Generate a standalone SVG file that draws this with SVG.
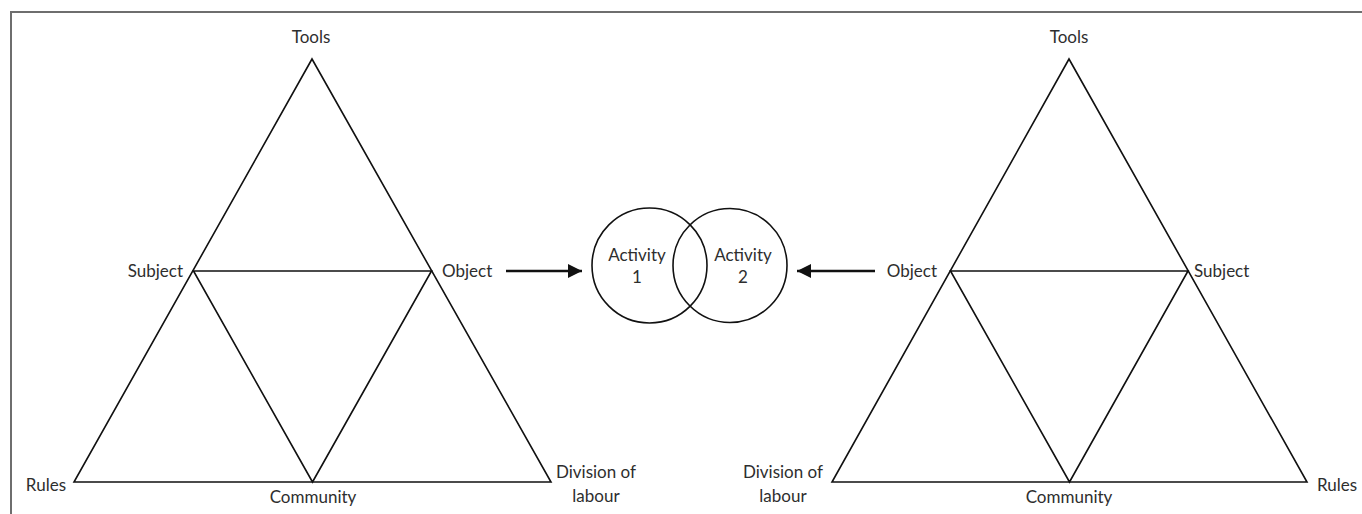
<svg xmlns="http://www.w3.org/2000/svg" width="1362" height="514" viewBox="0 0 1362 514">
<defs>
<style>
.lbl{font-family:Lato,"Liberation Sans",sans-serif;font-size:17px;fill:#2e2e2e}
.edge{stroke:#111;stroke-width:1.6;fill:none;stroke-linejoin:miter}
.arrow{stroke:#111;stroke-width:2.6;fill:none}
.circ{stroke:#111;stroke-width:1.6;fill:none}
.frame{stroke:#6e6e6e;stroke-width:2;fill:none}
</style>
<marker id="ah" viewBox="0 0 10 10" refX="10" refY="5" markerWidth="14" markerHeight="14" markerUnits="userSpaceOnUse" orient="auto">
<path d="M0,0 L10,5 L0,10 z" fill="#111"/>
</marker>
</defs>
<rect width="1362" height="514" fill="#fff"/>
<path class="frame" d="M11,514 V12 H1362"/>

<g id="triangle-left">
<path class="edge" d="M312,59 L551,482 L74,482 Z"/>
<path class="edge" d="M193.5,271 H431.5 L312.5,482 Z"/>
</g>
<g id="triangle-right">
<path class="edge" d="M1069,59 L1307,482 L832,482 Z"/>
<path class="edge" d="M950.5,271 H1188 L1069.5,482 Z"/>
</g>

<g id="left-labels">
<text class="lbl" x="311" y="43" text-anchor="middle">Tools</text>
<text class="lbl" x="183" y="277" text-anchor="end">Subject</text>
<text class="lbl" x="442" y="277">Object</text>
<text class="lbl" x="66" y="491" text-anchor="end">Rules</text>
<text class="lbl" x="313" y="503" text-anchor="middle">Community</text>
<text class="lbl" x="596" y="478" text-anchor="middle">Division of</text>
<text class="lbl" x="596" y="502" text-anchor="middle">labour</text>
</g>
<g id="right-labels">
<text class="lbl" x="1069" y="43" text-anchor="middle">Tools</text>
<text class="lbl" x="937" y="277" text-anchor="end">Object</text>
<text class="lbl" x="1194" y="277">Subject</text>
<text class="lbl" x="1317" y="491">Rules</text>
<text class="lbl" x="1069" y="503" text-anchor="middle">Community</text>
<text class="lbl" x="783" y="478" text-anchor="middle">Division of</text>
<text class="lbl" x="783" y="502" text-anchor="middle">labour</text>
</g>

<g id="activity-1">
<circle class="circ" cx="649.5" cy="265.5" r="57.5"/>
<text class="lbl" x="637" y="261" text-anchor="middle">Activity</text>
<text class="lbl" x="637" y="283" text-anchor="middle">1</text>
</g>
<g id="activity-2">
<circle class="circ" cx="730" cy="265.5" r="57"/>
<text class="lbl" x="743" y="261" text-anchor="middle">Activity</text>
<text class="lbl" x="743" y="283" text-anchor="middle">2</text>
</g>

<g id="connectors">
<line class="arrow" x1="506" y1="271" x2="582" y2="271" marker-end="url(#ah)"/>
<line class="arrow" x1="875" y1="271" x2="797" y2="271" marker-end="url(#ah)"/>
</g>
</svg>
